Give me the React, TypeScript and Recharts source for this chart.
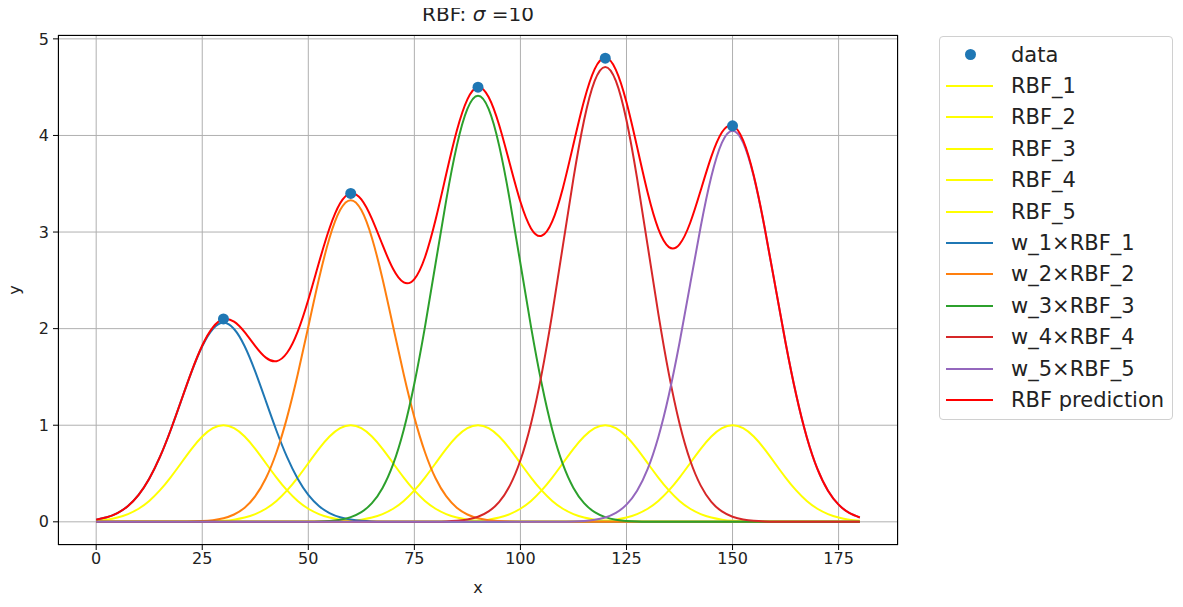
import React from 'react';
import { ComposedChart, Line, Scatter, XAxis, YAxis, CartesianGrid } from 'recharts';

// sample positions along x
const xGrid = [0, 2.5, 5, 7.5, 10, 12.5, 15, 17.5, 20, 22.5, 25, 27.5, 30, 32.5, 35, 37.5, 40, 42.5, 45, 47.5, 50, 52.5, 55, 57.5, 60, 62.5, 65, 67.5, 70, 72.5, 75, 77.5, 80, 82.5, 85, 87.5, 90, 92.5, 95, 97.5, 100, 102.5, 105, 107.5, 110, 112.5, 115, 117.5, 120, 122.5, 125, 127.5, 130, 132.5, 135, 137.5, 140, 142.5, 145, 147.5, 150, 152.5, 155, 157.5, 160, 162.5, 165, 167.5, 170, 172.5, 175, 177.5, 180];

// RBF (sigma = 10) height read at offsets 0, 2.5, 5, ... from its centre
const rbfShape = [1, 0.9692, 0.8825, 0.7548, 0.6065, 0.4578, 0.3247, 0.2163, 0.1353, 0.0796, 0.0439, 0.0228, 0.0111, 0.0051, 0.0022, 0.0009, 0.0003];
const shapeStep = 2.5;

// centres and fitted weights
const centers = [30, 60, 90, 120, 150];
const weights = [2.06, 3.33, 4.41, 4.71, 4.05];

// observed data
const dataX = [30, 60, 90, 120, 150];
const dataY = [2.1, 3.4, 4.5, 4.8, 4.1];

const xTicks = [0, 25, 50, 75, 100, 125, 150, 175];
const yTicks = [0, 1, 2, 3, 4, 5];

const rbfColors = ['yellow', 'yellow', 'yellow', 'yellow', 'yellow'];
const wColors = ['#1f77b4', '#ff7f0e', '#2ca02c', '#d62728', '#9467bd'];
const predColor = '#ff0000';

const shapeAt = (d: number) => {
  const i = Math.round(Math.abs(d) / shapeStep);
  return i < rbfShape.length ? rbfShape[i] : 0;
};

const rows = xGrid.map((x) => {
  const row: Record<string, number> = { x };
  let sum = 0;
  centers.forEach((c, i) => {
    const k = shapeAt(x - c);
    row[`rbf${i + 1}`] = k;
    row[`w${i + 1}`] = weights[i] * k;
    sum += weights[i] * k;
  });
  row.pred = sum;
  return row;
});

const points = dataX.map((x, i) => ({ x, obs: dataY[i] }));

const FONT = '"DejaVu Sans", "Noto Sans", sans-serif';

const legendItems = [
  { label: 'data', color: '#1f77b4', kind: 'dot' },
  ...centers.map((_, i) => ({ label: `RBF_${i + 1}`, color: rbfColors[i], kind: 'line' })),
  ...centers.map((_, i) => ({ label: `w_${i + 1}×RBF_${i + 1}`, color: wColors[i], kind: 'line' })),
  { label: 'RBF prediction', color: predColor, kind: 'line' },
];

export default function App() {
  const W = 1165;
  const H = 592;
  const plot = { left: 50, top: 27, right: 890, bottom: 537 };
  const tickStyle = { fontSize: 16, fill: '#222', fontFamily: FONT };
  return (
    <div style={{ position: 'relative', width: W, height: H, fontFamily: FONT, color: '#222' }}>
      <ComposedChart
        width={W}
        height={H}
        data={rows}
        margin={{ top: plot.top, right: W - plot.right, bottom: H - plot.bottom - 30, left: 0 }}
      >
        <CartesianGrid stroke="#b0b0b0" strokeWidth={1} />
        <XAxis
          dataKey="x"
          type="number"
          domain={[-9, 189]}
          ticks={xTicks}
          allowDataOverflow
          axisLine={false}
          tickLine={{ stroke: '#000' }}
          tickSize={5}
          tickMargin={3}
          height={30}
          tick={tickStyle}
        />
        <YAxis
          type="number"
          domain={[-0.24, 5.04]}
          ticks={yTicks}
          allowDataOverflow
          axisLine={false}
          tickLine={{ stroke: '#000' }}
          tickSize={5}
          tickMargin={4}
          width={50}
          tick={tickStyle}
        />
        <Scatter
          data={points}
          dataKey="obs"
          isAnimationActive={false}
          shape={(p: any) => <circle cx={p.cx} cy={p.cy} r={5.5} fill="#1f77b4" />}
        />
        {centers.map((_, i) => (
          <Line
            key={`rbf${i}`}
            dataKey={`rbf${i + 1}`}
            type="natural"
            stroke={rbfColors[i]}
            strokeWidth={2}
            dot={false}
            activeDot={false}
            isAnimationActive={false}
          />
        ))}
        {centers.map((_, i) => (
          <Line
            key={`w${i}`}
            dataKey={`w${i + 1}`}
            type="natural"
            stroke={wColors[i]}
            strokeWidth={2}
            dot={false}
            activeDot={false}
            isAnimationActive={false}
          />
        ))}
        <Line
          dataKey="pred"
          type="natural"
          stroke={predColor}
          strokeWidth={2}
          dot={false}
          activeDot={false}
          isAnimationActive={false}
        />
      </ComposedChart>

      {/* frame */}
      <div
        style={{
          position: 'absolute',
          left: plot.left,
          top: plot.top,
          width: plot.right - plot.left,
          height: plot.bottom - plot.top,
          border: '1px solid #000',
          boxSizing: 'border-box',
          pointerEvents: 'none',
        }}
      />

      {/* title */}
      <div
        style={{
          position: 'absolute',
          left: plot.left,
          width: plot.right - plot.left,
          top: -7,
          textAlign: 'center',
          fontSize: 20,
          lineHeight: '26px',
          whiteSpace: 'pre',
        }}
      >
        {'RBF: '}<i>σ</i>{' =10'}
      </div>

      {/* axis labels */}
      <div style={{ position: 'absolute', left: plot.left, width: plot.right - plot.left, top: 570, textAlign: 'center', fontSize: 16, lineHeight: '20px' }}>
        x
      </div>
      <div
        style={{
          position: 'absolute',
          left: 7,
          top: (plot.top + plot.bottom) / 2,
          transform: 'translate(-50%, -50%) rotate(-90deg)',
          fontSize: 16,
          lineHeight: '20px',
        }}
      >
        y
      </div>

      {/* legend */}
      <div
        style={{
          position: 'absolute',
          left: 931,
          top: 28,
          width: 234,
          height: 384,
          border: '1px solid #d0d0d0',
          borderRadius: 4,
          boxSizing: 'border-box',
          background: 'rgba(255,255,255,0.8)',
        }}
      >
        {legendItems.map((it, i) => (
          <div
            key={it.label}
            style={{ position: 'absolute', left: 0, top: 17.5 + i * 31.4 - 13, height: 26, width: '100%' }}
          >
            {it.kind === 'dot' ? (
              <div style={{ position: 'absolute', left: 25, top: 7.5, width: 11, height: 11, borderRadius: '50%', background: it.color }} />
            ) : (
              <div style={{ position: 'absolute', left: 6, top: 12, width: 47, height: 2, background: it.color }} />
            )}
            <div style={{ position: 'absolute', left: 71, top: 0, fontSize: 21, lineHeight: '26px', whiteSpace: 'nowrap' }}>{it.label}</div>
          </div>
        ))}
      </div>
    </div>
  );
}
